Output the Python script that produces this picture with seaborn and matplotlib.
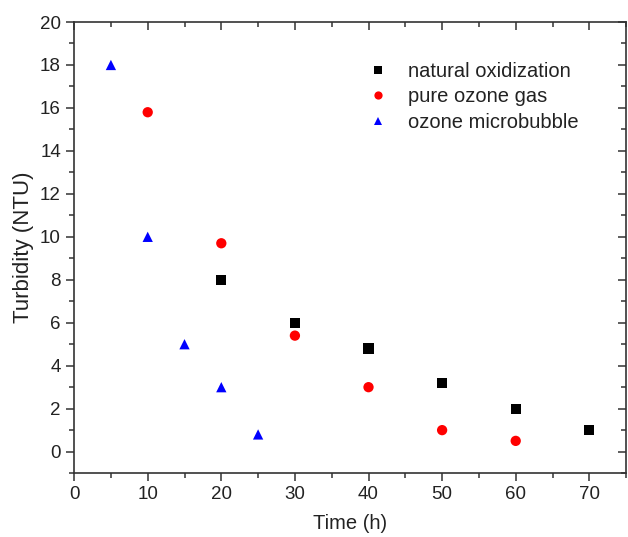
import pandas as pd
import matplotlib.pyplot as plt
import seaborn as sns
from matplotlib.ticker import MultipleLocator

# data
natural_t = [20, 30, 40, 50, 60, 70]
natural_y = [8.0, 6.0, 4.8, 3.2, 2.0, 1.0]
gas_t = [10, 20, 30, 40, 50, 60]
gas_y = [15.8, 9.7, 5.4, 3.0, 1.0, 0.5]
bubble_t = [5, 10, 15, 20, 25]
bubble_y = [18.0, 10.0, 5.0, 3.0, 0.8]

series = ["natural oxidization", "pure ozone gas", "ozone microbubble"]
colors = {"natural oxidization": "black", "pure ozone gas": "red", "ozone microbubble": "blue"}
markers = {"natural oxidization": "s", "pure ozone gas": "o", "ozone microbubble": "^"}

df = pd.concat([
    pd.DataFrame({"Time": natural_t, "Turbidity": natural_y, "Method": series[0]}),
    pd.DataFrame({"Time": gas_t, "Turbidity": gas_y, "Method": series[1]}),
    pd.DataFrame({"Time": bubble_t, "Turbidity": bubble_y, "Method": series[2]}),
])

sns.set_style("white")
plt.rcParams["font.family"] = ["Liberation Sans", "DejaVu Sans"]

fig = plt.figure(figsize=(6.28, 5.37), dpi=100)
ax = fig.add_axes([0.118, 0.119, 0.879, 0.840])

sns.scatterplot(data=df, x="Time", y="Turbidity", hue="Method", style="Method",
                palette=colors, markers=markers, hue_order=series, style_order=series,
                s=55, linewidth=0, ax=ax)

ax.set_xlim(0, 75)
ax.set_ylim(-1, 20)
ax.xaxis.set_major_locator(MultipleLocator(10))
ax.xaxis.set_minor_locator(MultipleLocator(5))
ax.yaxis.set_major_locator(MultipleLocator(2))
ax.yaxis.set_minor_locator(MultipleLocator(1))

for sp in ax.spines.values():
    sp.set_color("#333333")
    sp.set_linewidth(1.2)

ax.tick_params(which="both", colors="#333333", labelcolor="#222222", labelsize=13.5,
               direction="out", bottom=True, left=True, top=True, right=True)
ax.tick_params(which="major", length=6, width=1.1)
ax.tick_params(which="minor", length=3.5, width=1.1)
# top and right ticks point into the frame
for t in ax.xaxis.get_major_ticks() + ax.xaxis.get_minor_ticks():
    t.tick2line.set_marker(3)
for t in ax.yaxis.get_major_ticks() + ax.yaxis.get_minor_ticks():
    t.tick2line.set_marker(0)

ax.set_xlabel("Time (h)", fontsize=14.5, color="#222222", labelpad=8)
ax.set_ylabel("Turbidity (NTU)", fontsize=16, color="#222222", labelpad=4)

leg = ax.legend(loc="upper left", bbox_to_anchor=(0.532, 0.912), frameon=False,
                fontsize=14.5, borderaxespad=0, borderpad=0, handlelength=1.0,
                handletextpad=1.0, labelspacing=0.33, markerscale=0.8)
for txt in leg.get_texts():
    txt.set_color("#222222")

fig.savefig("out.png", dpi=100)
